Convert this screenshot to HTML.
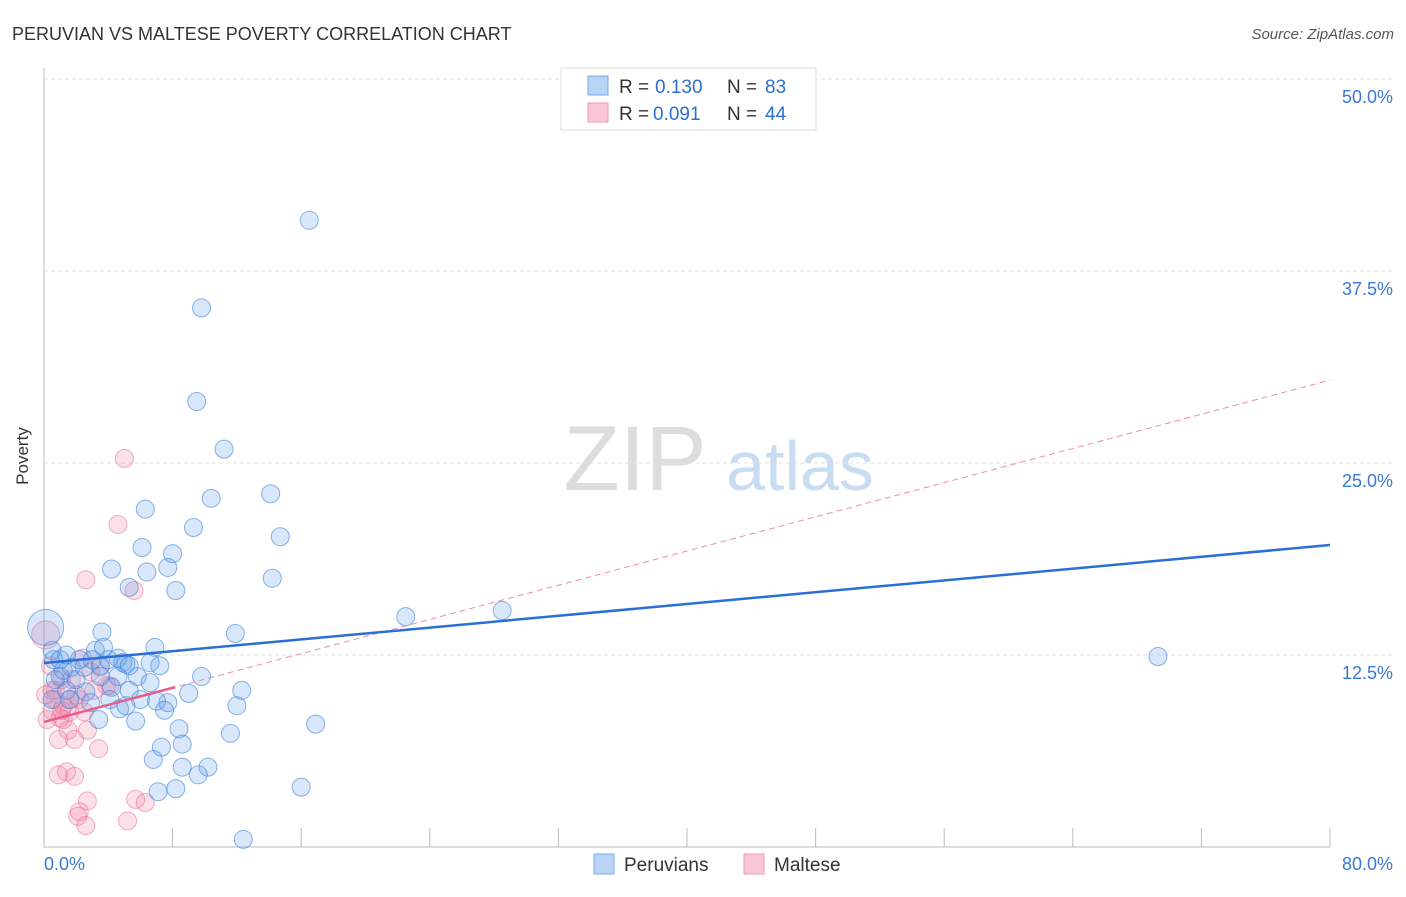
<!DOCTYPE html>
<html><head><meta charset="utf-8"><style>
body{margin:0;background:#fff;font-family:"Liberation Sans",sans-serif}
svg text{font-family:"Liberation Sans",sans-serif}
</style></head><body>
<svg id="chart" width="1406" height="892" xmlns="http://www.w3.org/2000/svg">
<text x="12" y="40" font-size="18" fill="#333">PERUVIAN VS MALTESE POVERTY CORRELATION CHART</text>
<text x="1394" y="39" font-size="15" fill="#555" font-style="italic" text-anchor="end">Source: ZipAtlas.com</text>
<text x="28" y="456" font-size="17" fill="#333" transform="rotate(-90 28 456)" text-anchor="middle">Poverty</text>
<g><text x="635" y="490" font-size="92" fill="#ddd" font-family="Liberation Serif" text-anchor="middle">ZIP</text><text x="800" y="490" font-size="70" fill="#c8dcf3" text-anchor="middle">atlas</text></g>
<g id="grid"></g><g id="axes"></g>
<g id="pink"></g><g id="blue"></g><g id="trends"></g>
<g>
<rect x="561" y="68" width="255" height="62" fill="#fff" stroke="#ddd"/>
<rect x="588" y="76" width="20" height="19" fill="#b8d4f5" stroke="#7aa8e0"/>
<rect x="588" y="103" width="20" height="19" fill="#f9c6d6" stroke="#ee9ab5"/>
<text x="619" y="93" font-size="19" fill="#333">R =</text><text x="655" y="93" font-size="19" fill="#2d6fd1">0.130</text>
<text x="727" y="93" font-size="19" fill="#333">N =</text><text x="765" y="93" font-size="19" fill="#2d6fd1">83</text>
<text x="619" y="120" font-size="19" fill="#333">R =</text><text x="653" y="120" font-size="19" fill="#2d6fd1">0.091</text>
<text x="727" y="120" font-size="19" fill="#333">N =</text><text x="765" y="120" font-size="19" fill="#2d6fd1">44</text>
</g>
<g>
<rect x="594" y="854" width="20" height="20" fill="#b8d4f5" stroke="#7aa8e0"/>
<text x="624" y="871" font-size="19" fill="#333">Peruvians</text>
<rect x="744" y="854" width="20" height="20" fill="#f9c6d6" stroke="#ee9ab5"/>
<text x="774" y="871" font-size="19" fill="#333">Maltese</text>
</g>
</svg>
<script>
const xTicks=[0,80];
const yTicks=[12.5,25,37.5,50];
const blueX=[16.5,9.8,9.5,11.2,10.4,14.1,6.3,9.3,14.7,6.1,8.0,4.2,7.7,6.4,14.2,8.2,5.3,22.5,28.5,3.6,11.9,6.9,69.3,0.5,3.2,4.6,5.1,7.2,5.8,9.8,6.6,12.3,9.0,5.3,4.2,2.6,1.0,1.7,2.2,3.5,1.2,0.6,4.0,4.9,7.7,7.0,12.0,7.5,4.7,6.0,3.4,5.7,16.9,8.4,11.6,8.6,7.3,6.8,8.6,10.2,9.6,7.1,8.2,16.0,12.4,1.6,2.9,1.4,0.7,2.0,4.1,5.1,2.5,3.0,1.0,0.5,3.5,1.4,3.7,5.3,6.6,4.6,0.1];
const blueY=[40.8,35.1,29.0,25.9,22.7,23.0,22.0,20.8,20.2,19.5,19.1,18.1,18.2,17.9,17.5,16.7,16.9,15.0,15.4,14.0,13.9,13.0,12.4,12.8,12.8,12.3,11.9,11.8,11.1,11.1,10.7,10.2,10.0,10.2,10.4,10.1,11.1,11.7,12.2,11.8,11.5,12.2,12.2,12.0,9.4,9.5,9.2,8.9,9.0,9.6,8.3,8.2,8.0,7.7,7.4,6.7,6.5,5.7,5.2,5.2,4.7,3.6,3.8,3.9,0.5,9.6,9.4,10.2,10.9,10.9,9.6,9.2,11.7,12.2,12.2,9.6,11.1,12.5,13.0,11.8,12.0,11.1,14.3];
const pinkX=[5.0,4.6,2.6,5.6,0.1,0.4,0.5,0.7,1.1,1.0,1.2,1.6,1.9,1.5,2.7,3.4,2.2,1.7,2.9,2.4,3.5,4.1,0.9,1.4,1.9,2.7,2.2,2.1,2.6,5.7,6.3,5.2,0.2,0.5,0.1,0.7,1.2,2.0,2.5,3.1,1.1,1.6,0.9,3.9];
const pinkY=[25.3,21.0,17.4,16.7,13.8,11.8,10.2,9.6,8.9,8.4,8.3,8.8,7.0,7.6,7.6,6.4,9.6,10.9,11.4,12.3,11.7,10.5,4.7,4.9,4.6,3.0,2.3,2.0,1.4,3.1,2.9,1.7,8.3,8.9,9.9,10.2,9.2,9.9,8.8,10.2,10.9,9.6,7.0,10.5];
const blueTrend=[11.98,19.66];
const pinkTrend=[8.14,30.4];
const pinkSolidEnd=8.15;
const NS='http://www.w3.org/2000/svg';
const X0=44,X1=1330,Y0=847,Y50=79;
const sx=v=>X0+(v/80)*(X1-X0);
const sy=v=>Y0-(v/50)*(Y0-Y50);
function mk(t,a,p){const e=document.createElementNS(NS,t);for(const k in a)e.setAttribute(k,a[k]);p.appendChild(e);return e;}
const grid=document.getElementById('grid'),axes=document.getElementById('axes');
yTicks.forEach(v=>{
 const l=mk('line',{x1:X0,x2:1394,y1:sy(v),y2:sy(v),stroke:'#e2e2e2','stroke-dasharray':'4,3'},grid);
 
 
 const t=mk('text',{x:1393,y:sy(v)+24,'font-size':18,fill:'#3a78d6','text-anchor':'end'},grid);
 t.textContent=v.toFixed(1)+'%';
 
 
});
const la=mk('line',{x1:X0,x2:X0,y1:68,y2:Y0,stroke:'#bbb'},axes);


const ba=mk('line',{x1:X0,x2:X1,y1:Y0,y2:Y0,stroke:'#bbb'},axes);


for(let i=0;i<=10;i++){const v=i*8;
 const tk=mk('line',{x1:sx(v),x2:sx(v),y1:828,y2:Y0,stroke:'#bbb'},axes);
 
 }
xTicks.forEach((v,i)=>{
 const t=mk('text',{x:i?1393:44,y:870,'font-size':18,fill:'#3a78d6','text-anchor':i?'end':'start'},axes);
 t.textContent=v.toFixed(1)+'%';
 
 
});
function pts(xs,ys,g,fill,stroke,name,bigIdx,bigR){
 xs.forEach((x,i)=>{
  const c=mk('circle',{cx:sx(x),cy:sy(ys[i]),r:i===bigIdx?bigR:9,fill:fill,stroke:stroke,'stroke-width':1},g);
  
  
 });
}
pts(pinkX,pinkY,document.getElementById('pink'),'rgba(240,130,165,0.25)','rgba(232,110,150,0.55)','maltese-point',4,14);
pts(blueX,blueY,document.getElementById('blue'),'rgba(100,160,230,0.25)','rgba(60,130,220,0.6)','peruvian-point',blueX.length-1,18);
const tr=document.getElementById('trends');
const pd=mk('line',{x1:sx(0),y1:sy(pinkTrend[0]),x2:sx(80),y2:sy(pinkTrend[1]),stroke:'#ef8aab','stroke-width':1,'stroke-dasharray':'6,4'},tr);


const ps=mk('line',{x1:sx(0),y1:sy(pinkTrend[0]),x2:sx(pinkSolidEnd),y2:sy(pinkTrend[0]+(pinkTrend[1]-pinkTrend[0])*pinkSolidEnd/80),stroke:'#e85d8a','stroke-width':2.5},tr);


const bl=mk('line',{x1:sx(0),y1:sy(blueTrend[0]),x2:sx(80),y2:sy(blueTrend[1]),stroke:'#2a6fd6','stroke-width':2.5},tr);


</script>
</body></html>
